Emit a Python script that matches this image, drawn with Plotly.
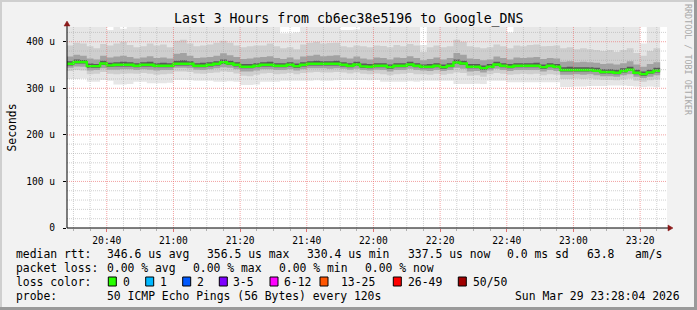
import pandas as pd
import plotly.graph_objects as go

# ---------------- data ----------------
BIN_START = "2026-03-29 20:28:00"
BIN_SECONDS = 120
VIEW_START = "2026-03-29 20:28:04"
VIEW_END = "2026-03-29 23:28:04"

median_us = [352.6, 356.5, 356.5, 347.6, 347.6, 353.3, 349.1, 350.5, 350.5, 350.5,
             348.3, 350.5, 350.5, 348.3, 348.3, 348.3, 352.6, 352.6, 352.6, 348.3,
             348.3, 350.5, 352.6, 355.8, 353.3, 350.5, 346.2, 346.2, 348.3, 350.5,
             350.5, 348.3, 348.3, 350.5, 347.6, 350.5, 352.6, 352.6, 352.6, 352.6,
             352.6, 350.5, 348.3, 351.2, 347.0, 346.2, 348.3, 348.3, 345.5, 348.3,
             348.3, 351.2, 348.3, 346.2, 346.2, 348.3, 345.5, 348.3, 355.5, 353.3,
             346.2, 346.2, 343.3, 346.2, 351.2, 348.3, 346.2, 348.3, 348.3, 348.3,
             348.3, 345.5, 348.3, 346.2, 339.2, 339.2, 339.2, 339.2, 339.2, 337.8,
             335.0, 335.0, 333.5, 337.1, 339.9, 333.5, 330.4, 334.2, 337.5]

smoke_min = [320, 320, 321, 314, 314, 318, 316, 308, 308, 309,
             314, 314, 311, 311, 311, 312, 318, 318, 317, 316,
             316, 316, 314, 314, 315, 314, 307, 307, 308, 314,
             314, 314, 316, 316, 316, 316, 316, 317, 316, 316,
             317, 318, 318, 318, 318, 317, 318, 314, 314, 314,
             314, 315, 314, 316, 316, 316, 316, 316, 309, 309,
             309, 310, 309, 316, 316, 316, 313, 313, 313, 313,
             313, 313, 313, 313, 303, 303, 304, 304, 305, 305,
             305, 306, 306, 306, 305, 304, 303, 304, 303]
smoke_p10 = [337, 339, 338, 330, 331, 335, 331, 330, 331, 332,
             331, 333, 331, 329, 330, 331, 336, 336, 335, 332,
             331, 333, 334, 336, 335, 332, 327, 326, 329, 332,
             333, 330, 331, 333, 330, 333, 334, 335, 334, 334,
             335, 334, 332, 334, 331, 330, 332, 330, 328, 330,
             331, 333, 330, 330, 329, 331, 329, 331, 334, 333,
             327, 328, 325, 330, 333, 331, 329, 330, 331, 330,
             331, 328, 330, 329, 320, 320, 321, 320, 321, 319,
             318, 318, 317, 319, 321, 316, 314, 317, 319]
smoke_p25 = [344, 347, 346, 338, 339, 343, 340, 340, 341, 341,
             339, 341, 340, 338, 339, 339, 344, 344, 343, 340,
             339, 341, 343, 345, 344, 341, 336, 336, 338, 341,
             341, 339, 339, 341, 338, 341, 343, 343, 343, 342,
             343, 342, 340, 342, 339, 338, 340, 339, 336, 339,
             339, 342, 339, 338, 337, 339, 337, 339, 344, 342,
             336, 337, 334, 338, 342, 339, 337, 339, 339, 339,
             339, 336, 339, 337, 329, 329, 330, 329, 330, 328,
             326, 326, 325, 328, 330, 325, 322, 325, 328]
smoke_p40 = [349, 353, 353, 344, 344, 350, 346, 347, 347, 347,
             345, 347, 347, 345, 345, 345, 349, 349, 349, 345,
             345, 347, 349, 352, 350, 347, 343, 343, 345, 347,
             347, 345, 345, 347, 344, 347, 349, 349, 349, 349,
             349, 347, 345, 348, 344, 343, 345, 345, 342, 345,
             345, 348, 345, 343, 343, 345, 342, 345, 352, 350,
             343, 343, 340, 343, 348, 345, 343, 345, 345, 345,
             345, 342, 345, 343, 336, 336, 336, 336, 336, 335,
             332, 332, 330, 334, 337, 330, 327, 331, 334]
smoke_p60 = [358, 362, 361, 353, 352, 359, 355, 356, 357, 356,
             354, 356, 357, 354, 355, 354, 359, 360, 358, 354,
             355, 356, 358, 362, 359, 356, 352, 352, 354, 356,
             357, 354, 354, 356, 353, 356, 358, 359, 358, 358,
             359, 356, 354, 357, 353, 352, 354, 354, 351, 354,
             354, 357, 354, 351, 352, 354, 351, 354, 362, 359,
             352, 352, 349, 352, 357, 354, 352, 354, 354, 354,
             355, 351, 354, 352, 345, 346, 345, 345, 345, 344,
             341, 341, 340, 343, 346, 340, 336, 340, 344]
smoke_p75 = [368, 372, 370, 364, 362, 370, 366, 368, 370, 367,
             364, 366, 369, 365, 366, 364, 374, 376, 370, 365,
             366, 367, 370, 375, 371, 367, 363, 364, 366, 367,
             369, 365, 363, 366, 362, 368, 370, 372, 369, 370,
             371, 366, 364, 368, 364, 362, 366, 365, 362, 366,
             365, 369, 365, 360, 363, 366, 362, 365, 376, 372,
             364, 363, 360, 362, 368, 365, 362, 366, 365, 366,
             367, 363, 365, 364, 357, 358, 356, 357, 356, 355,
             352, 353, 351, 354, 358, 351, 346, 352, 356]
smoke_p90 = [392, 398, 396, 390, 386, 395, 392, 396, 400, 393,
             388, 390, 396, 392, 394, 388, 402, 404, 396, 390,
             392, 394, 398, 402, 398, 392, 388, 390, 392, 392,
             396, 390, 386, 388, 384, 394, 398, 400, 396, 397,
             398, 390, 388, 392, 390, 388, 392, 391, 388, 393,
             390, 395, 392, 378, 388, 392, 388, 390, 404, 400,
             390, 388, 386, 388, 394, 390, 386, 392, 390, 393,
             394, 390, 391, 392, 386, 388, 384, 386, 384, 382,
             380, 382, 378, 382, 386, 376, 370, 380, 386]
smoke_max = [440, 440, 440, 440, 440, 440, 425, 440, 428, 440,
             440, 440, 440, 440, 440, 440, 440, 440, 440, 440,
             440, 440, 440, 440, 440, 440, 440, 440, 440, 440,
             440, 440, 418, 418, 420, 440, 440, 440, 440, 440,
             440, 425, 425, 426, 440, 440, 440, 440, 440, 440,
             440, 440, 440, 393, 440, 440, 440, 440, 440, 440,
             440, 440, 440, 440, 440, 440, 420, 440, 440, 440,
             440, 440, 440, 440, 440, 440, 440, 440, 440, 440,
             440, 440, 440, 440, 440, 440, 396, 440, 440]

Y_MAX_US = 431.6
y_tick_vals = [0, 100, 200, 300, 400]
y_tick_text = ["0", "100 u", "200 u", "300 u", "400 u"]
y_minor_grid = list(range(20, 440, 20))

title_text = "Last 3 Hours from cb6ec38e5196 to Google_DNS"
y_title = "Seconds"
watermark = "RRDTOOL / TOBI OETIKER"

rtt_row = ["median rtt:", "346.6 us avg", "356.5 us max", "330.4 us min",
           "337.5 us now", "0.0 ms sd", "63.8", "am/s"]
loss_row = ["packet loss:", "0.00 % avg", "0.00 % max", "0.00 % min", "0.00 % now"]
loss_labels = ["0", "1", "2", "3-5", "6-12", "13-25", "26-49", "50/50"]
loss_colors = ["#26ff00", "#00b8ff", "#0059ff", "#7e00ff", "#ff00ff",
               "#ff5500", "#ff0000", "#a10000"]
probe_row = ["probe:", "50 ICMP Echo Pings (56 Bytes) every 120s"]
stamp_text = "Sun Mar 29 23:28:04 2026"

# ---------------- layout geometry (pixels) ----------------
W, H = 697, 310
PL, PR, PT, PB = 67, 667, 27, 228
FONT = "DejaVu Sans Mono"


def fx(px):
    return (px - PL) / (PR - PL)


def fy(py):
    return (PB - py) / (PB - PT)


times = pd.date_range(BIN_START, periods=len(median_us) + 1, freq=f"{BIN_SECONDS}s")


def ext(v):
    return list(v) + [v[-1]]


fig = go.Figure()

bands = [
    (smoke_min, smoke_max, "#e6e6e6"),
    (smoke_p10, smoke_p90, "#cecece"),
    (smoke_p25, smoke_p75, "#a2a2a2"),
    (smoke_p40, smoke_p60, "#5a5a5a"),
]
for lo, hi, col in bands:
    fig.add_trace(go.Scatter(x=times, y=ext(lo), mode="lines",
                             line=dict(width=0, shape="hv"),
                             hoverinfo="skip", showlegend=False))
    fig.add_trace(go.Scatter(x=times, y=ext(hi), mode="lines",
                             line=dict(width=0, shape="hv"),
                             fill="tonexty", fillcolor=col,
                             hoverinfo="skip", showlegend=False))

fig.add_trace(go.Scatter(x=times, y=ext(median_us), mode="lines",
                         line=dict(color="#26ff00", width=2.4, shape="hv"),
                         hoverinfo="skip", showlegend=False))

shapes = []
# grid above the smoke (as rrdtool does)
grid_times = pd.date_range("2026-03-29 20:30:00", "2026-03-29 23:25:00", freq="5min")
for t in grid_times:
    major = t.minute % 20 == 0
    shapes.append(dict(type="line", xref="x", yref="paper", x0=t, x1=t, y0=0, y1=1,
                       layer="above",
                       line=dict(color="rgba(235,110,110,0.65)" if major else "rgba(170,170,170,0.55)",
                                 width=1, dash="1px,1px")))
for v in y_minor_grid:
    major = v % 100 == 0
    shapes.append(dict(type="line", xref="paper", yref="y", x0=0, x1=1, y0=v, y1=v,
                       layer="above",
                       line=dict(color="rgba(235,110,110,0.65)" if major else "rgba(170,170,170,0.55)",
                                 width=1, dash="1px,1px")))

# axis lines + arrows
shapes.append(dict(type="line", xref="paper", yref="paper", x0=fx(PL), x1=fx(670), y0=0, y1=0,
                   layer="above", line=dict(color="#000000", width=1)))
shapes.append(dict(type="line", xref="paper", yref="paper", x0=0, x1=0, y0=0, y1=fy(24),
                   layer="above", line=dict(color="#000000", width=1)))
shapes.append(dict(type="path", xref="paper", yref="paper", layer="above",
                   path=f"M {fx(668)},{fy(225)} L {fx(673)},{fy(228)} L {fx(668)},{fy(231)} Z",
                   fillcolor="#8b1a1a", line=dict(color="#8b1a1a", width=0.5)))
shapes.append(dict(type="path", xref="paper", yref="paper", layer="above",
                   path=f"M {fx(64)},{fy(26)} L {fx(67)},{fy(21)} L {fx(70)},{fy(26)} Z",
                   fillcolor="#8b1a1a", line=dict(color="#8b1a1a", width=0.5)))

# frame shading
shapes.append(dict(type="rect", xref="paper", yref="paper", layer="above",
                   x0=fx(0), x1=fx(2), y0=fy(0), y1=fy(H), fillcolor="#cfcfcf", line=dict(width=0)))
shapes.append(dict(type="rect", xref="paper", yref="paper", layer="above",
                   x0=fx(0), x1=fx(W), y0=fy(0), y1=fy(2), fillcolor="#cfcfcf", line=dict(width=0)))
shapes.append(dict(type="rect", xref="paper", yref="paper", layer="above",
                   x0=fx(W - 3), x1=fx(W), y0=fy(0), y1=fy(H), fillcolor="#9a9a9a", line=dict(width=0)))
shapes.append(dict(type="rect", xref="paper", yref="paper", layer="above",
                   x0=fx(0), x1=fx(W), y0=fy(H - 3), y1=fy(H), fillcolor="#9a9a9a", line=dict(width=0)))

annotations = []


def text_at(txt, px, py, size=11.4, xanchor="left", color="#000000", angle=0):
    annotations.append(dict(text=txt, x=fx(px), y=fy(py), xref="paper", yref="paper",
                            xanchor=xanchor, yanchor="middle", showarrow=False,
                            textangle=angle, borderpad=0,
                            font=dict(family=FONT, size=size, color=color)))


text_at(title_text, 348, 19, size=13.2, xanchor="center")
text_at(y_title, 11, 127.5, size=11.4, xanchor="center", angle=-90)
text_at(watermark, 688, 60, size=8.4, xanchor="center", color="#a8a8a8", angle=90)

row_y = [254, 268, 282, 296]
rtt_x = [16, 107, 207, 307, 407.5, 506.5, 586.5, 635]
for t, x in zip(rtt_row, rtt_x):
    text_at(t, x - 1, row_y[0])
loss_x = [16, 107, 193, 279, 365]
for t, x in zip(loss_row, loss_x):
    text_at(t, x - 1, row_y[1])
text_at("loss color:", 15, row_y[2])
box_x = [108.3, 145.7, 182.7, 219.3, 270, 320, 393.3, 458.3]
lab_x = [123.3, 160, 196.7, 233.3, 284.3, 341, 408.3, 473.3]
for lab, col, bx, lx in zip(loss_labels, loss_colors, box_x, lab_x):
    shapes.append(dict(type="rect", xref="paper", yref="paper", layer="above",
                       x0=fx(bx), x1=fx(bx + 8), y0=fy(286), y1=fy(277),
                       fillcolor=col, line=dict(color="#000000", width=1)))
    text_at(lab, lx - 1, row_y[2])
text_at(probe_row[0], 15, row_y[3])
text_at(probe_row[1], 106, row_y[3])
text_at(stamp_text, 681, row_y[3], xanchor="right")

fig.update_layout(
    width=W, height=H, autosize=False,
    margin=dict(l=PL, r=W - PR, t=PT, b=H - PB, pad=0),
    paper_bgcolor="#f2f2f2", plot_bgcolor="#ffffff",
    showlegend=False,
    shapes=shapes, annotations=annotations,
    font=dict(family=FONT, color="#000000"),
    xaxis=dict(type="date", range=[VIEW_START, VIEW_END],
               dtick=20 * 60 * 1000, tickformat="%H:%M",
               showgrid=False, zeroline=False, showline=False,
               ticks="outside", ticklen=3, tickcolor="rgba(220,80,80,0.8)",
               tickfont=dict(family=FONT, size=9.6, color="#000000"),
               ticklabelstandoff=0,
               minor=dict(ticks="outside", ticklen=2, tickcolor="#b0b0b0",
                          dtick=5 * 60 * 1000, showgrid=False),
               fixedrange=True),
    yaxis=dict(range=[0, Y_MAX_US], tickvals=y_tick_vals, ticktext=y_tick_text,
               showgrid=False, zeroline=False, showline=False,
               ticks="outside", ticklen=3, tickcolor="#000000",
               tickfont=dict(family=FONT, size=9.6, color="#000000"),
               ticklabelstandoff=6,
               fixedrange=True),
)

fig.write_html("out.html")
